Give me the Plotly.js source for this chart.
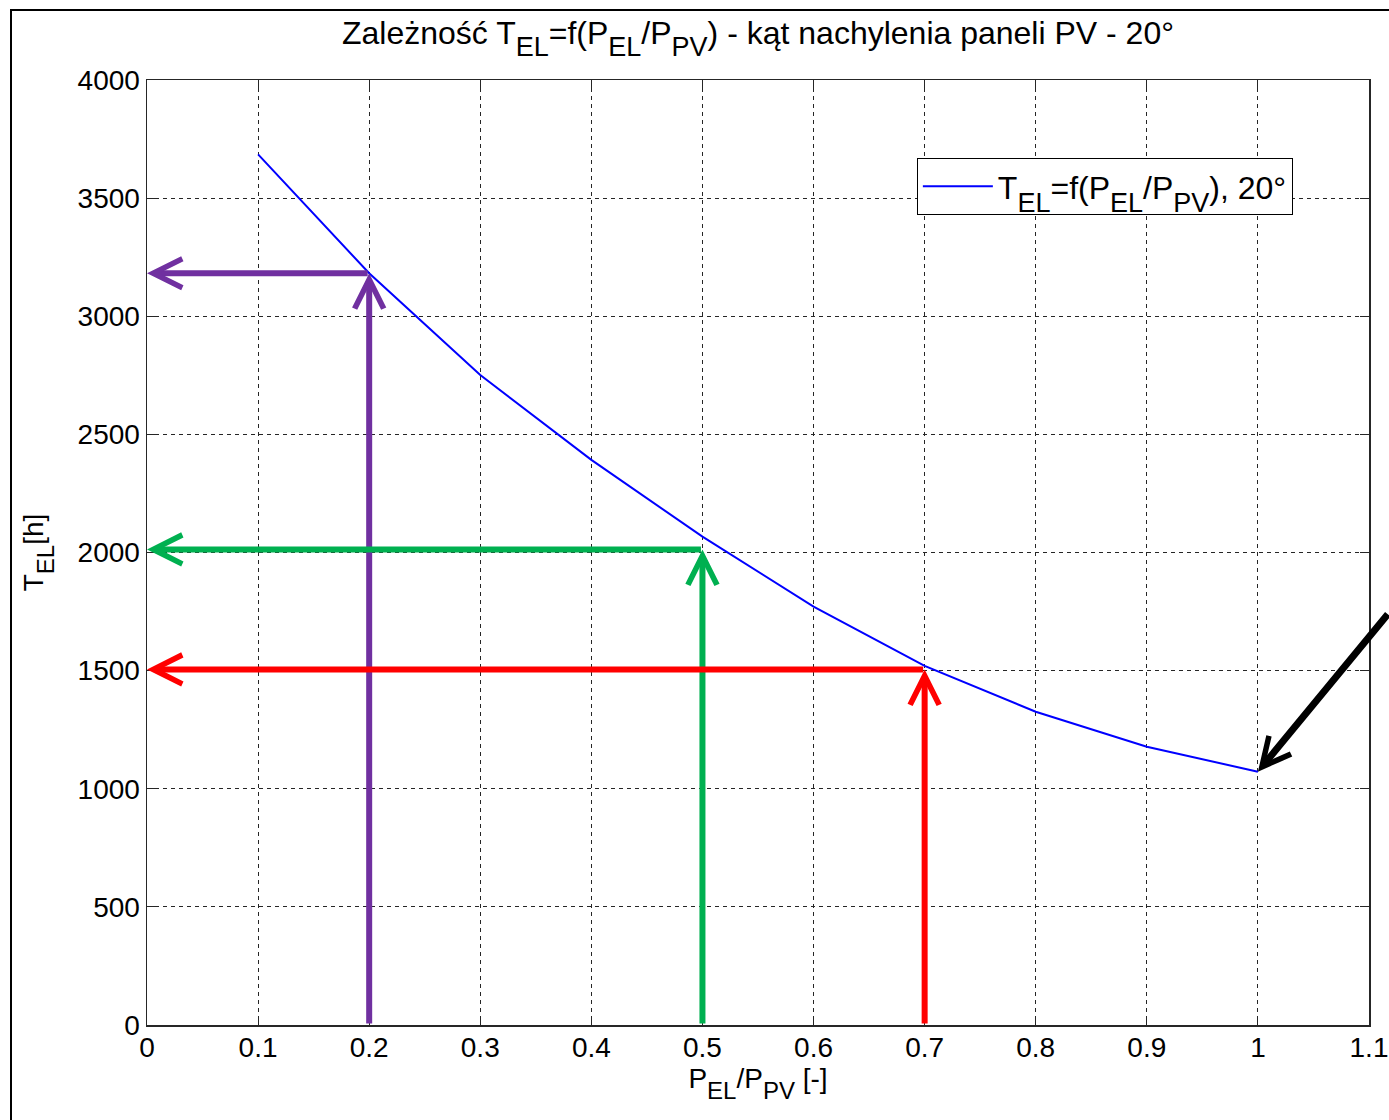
<!DOCTYPE html>
<html>
<head>
<meta charset="utf-8">
<script src="https://cdn.plot.ly/plotly-3.0.1.min.js"></script>
<style>
  html, body { margin: 0; padding: 0; background: #fff; overflow: hidden; }
  #chart { position: absolute; left: 0; top: 0; width: 1389px; height: 1120px; }
  #frame { position: absolute; left: 10px; top: 9px; width: 1420px; height: 1200px;
           border-left: 2px solid #000; border-top: 2px solid #000; pointer-events: none; }
</style>
</head>
<body>
<div id="chart"></div>
<div id="frame"></div>
<script>
// ---- data ----
const pRatio = [0.1, 0.2, 0.3, 0.4, 0.5, 0.6, 0.7, 0.8, 0.9, 1.0];
const tEl    = [3685, 3182, 2751, 2392, 2067, 1771, 1520, 1326, 1178, 1072];

// reading guides (P_EL/P_PV -> T_EL)
const readX = [0.2, 0.5, 0.7];
const readY = [3182, 2013, 1505];
const readColors = ['#7030A0', '#00B050', '#FF0000'];

const xTickVals = [0, 0.1, 0.2, 0.3, 0.4, 0.5, 0.6, 0.7, 0.8, 0.9, 1.0, 1.1];
const xTickText = ['0', '0.1', '0.2', '0.3', '0.4', '0.5', '0.6', '0.7', '0.8', '0.9', '1', '1.1'];
const yTickVals = [0, 500, 1000, 1500, 2000, 2500, 3000, 3500, 4000];
const yTickText = ['0', '500', '1000', '1500', '2000', '2500', '3000', '3500', '4000'];

const FONT = 'Liberation Sans, Arial, Helvetica, sans-serif';

// MATLAB-like subscript: slightly smaller, dropped well below the baseline
function sb(t, size, drop) {
  return '<span style="font-size:' + size + 'px;baseline-shift:-' + drop + 'px">' + t + '</span>';
}

const traces = [{
  x: pRatio,
  y: tEl,
  type: 'scatter',
  mode: 'lines',
  name: 'T' + sb('EL', 27, 13) + '=f(P' + sb('EL', 27, 13) + '/P' + sb('PV', 27, 13) + '), 20°',
  line: { color: '#0000FF', width: 2 },
  showlegend: true
}];

const annotations = [];
readX.forEach((xv, i) => {
  // vertical arrow: from x-axis up to the curve
  annotations.push({
    x: xv, y: readY[i], ax: xv, ay: 0,
    xref: 'x', yref: 'y', axref: 'x', ayref: 'y',
    text: '', showarrow: true,
    arrowhead: 5, arrowsize: 0.95, arrowwidth: 6, arrowcolor: readColors[i], standoff: 0
  });
  // horizontal arrow: from the curve to the y-axis
  annotations.push({
    x: 0, y: readY[i], ax: xv, ay: readY[i],
    xref: 'x', yref: 'y', axref: 'x', ayref: 'y',
    text: '', showarrow: true,
    arrowhead: 5, arrowsize: 0.95, arrowwidth: 6, arrowcolor: readColors[i], standoff: 0
  });
});
// black arrow pointing at the last point of the curve
annotations.push({
  x: pRatio[pRatio.length - 1], y: tEl[tEl.length - 1],
  xref: 'x', yref: 'y', ax: 132, ay: -159,
  text: '', showarrow: true,
  arrowhead: 5, arrowsize: 0.8, arrowwidth: 7, arrowcolor: '#000000', standoff: 0
});

const axisCommon = {
  showline: true, linecolor: '#262626', linewidth: 1.5, mirror: 'ticks',
  ticks: 'inside', ticklen: 9, tickwidth: 1, tickcolor: '#262626',
  showgrid: true, gridcolor: '#262626', gridwidth: 1, griddash: '4px,4px',
  zeroline: false,
  tickfont: { family: FONT, size: 28, color: '#000' },
  tickmode: 'array'
};

const layout = {
  width: 1389, height: 1120,
  paper_bgcolor: '#ffffff', plot_bgcolor: '#ffffff',
  margin: { l: 147, r: 20, t: 80, b: 95, pad: 0 },
  font: { family: FONT, color: '#000' },
  title: {
    text: 'Zależność T' + sb('EL', 27, 12) + '=f(P' + sb('EL', 27, 12) + '/P' + sb('PV', 27, 12) +
          ') - kąt nachylenia paneli PV - 20°',
    font: { family: FONT, size: 32, color: '#000' },
    x: 0.5, xref: 'paper', xanchor: 'center',
    y: 0.971, yref: 'container', yanchor: 'middle'
  },
  xaxis: Object.assign({}, axisCommon, {
    range: [0, 1.1], tickvals: xTickVals, ticktext: xTickText,
    ticklabelstandoff: -3,
    title: { text: 'P' + sb('EL', 24, 11) + '/P' + sb('PV', 24, 11) + ' [-]', font: { family: FONT, size: 28, color: '#000' }, standoff: 6 },
    automargin: false
  }),
  yaxis: Object.assign({}, axisCommon, {
    range: [0, 4000], tickvals: yTickVals, ticktext: yTickText,
    title: { text: 'T' + sb('EL', 24, 11) + '[h]', font: { family: FONT, size: 28, color: '#000' }, standoff: 26 },
    automargin: false
  }),
  legend: {
    x: 0.630, y: 0.9175, xanchor: 'left', yanchor: 'top',
    bgcolor: '#ffffff', bordercolor: '#000000', borderwidth: 1,
    itemwidth: 70,
    font: { family: FONT, size: 32, color: '#000' }
  },
  annotations: annotations
};

Plotly.newPlot('chart', traces, layout, { staticPlot: true, displayModeBar: false });
</script>
</body>
</html>
